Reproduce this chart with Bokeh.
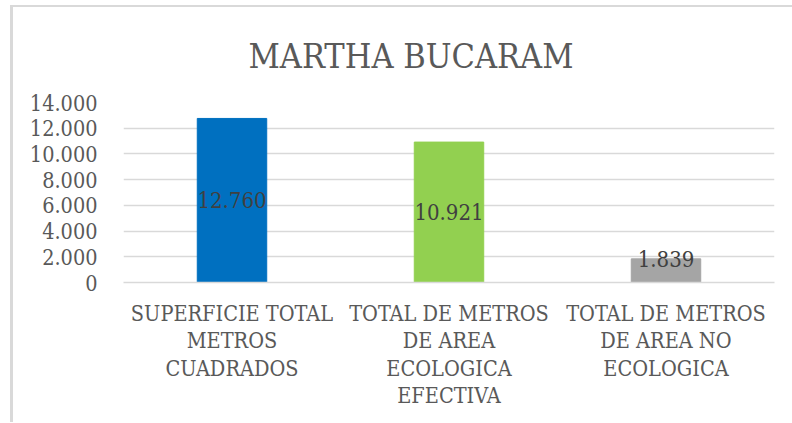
from bokeh.plotting import figure
from bokeh.models import ColumnDataSource, Title, CustomJSTickFormatter, FixedTicker
from bokeh.core.properties import value
from bokeh.embed import file_html
from bokeh.resources import INLINE

title = "MARTHA BUCARAM"
categories = [
    "SUPERFICIE TOTAL\nMETROS\nCUADRADOS",
    "TOTAL DE METROS\nDE AREA\nECOLOGICA\nEFECTIVA",
    "TOTAL DE METROS\nDE AREA NO\nECOLOGICA",
]
values = [12760, 10921, 1839]
value_labels = ["12.760", "10.921", "1.839"]
colors = ["#0070C0", "#92D050", "#A5A5A5"]
y_ticks = [0, 2000, 4000, 6000, 8000, 10000, 12000, 14000]

FONT = "DejaVu Serif Condensed"

label_y = [v / 2 if v / 2 > 1500 else v for v in values]
src = ColumnDataSource(dict(cat=categories, val=values, col=colors,
                            lab=value_labels, ly=label_y))

p = figure(x_range=categories, y_range=(0, 14000), width=782, height=417,
           output_backend="svg", toolbar_location=None,
           min_border_left=110, min_border_right=21,
           min_border_top=95, min_border_bottom=142)
p.title = None
p.styles = {"border-top": "2px solid #D9D9D9", "border-left": "3px solid #D9D9D9",
            "margin-left": "10px", "margin-top": "5px"}
p.outline_line_color = None
p.background_fill_color = "white"

p.vbar(x="cat", top="val", width=0.32, color="col", source=src)
p.text(x="cat", y="ly", text="lab", source=src, text_align="center",
       text_baseline="middle", text_font_size="22px", text_color="#404040",
       text_font=value(FONT))

p.xgrid.grid_line_color = None
p.ygrid.grid_line_color = "#D9D9D9"
p.ygrid.grid_line_width = 1.5
p.yaxis.ticker = FixedTicker(ticks=y_ticks)
p.yaxis.formatter = CustomJSTickFormatter(
    code='return tick.toFixed(0).replace(/\\B(?=(\\d{3})+(?!\\d))/g, ".");')
p.yaxis.axis_line_color = None
p.yaxis.major_tick_line_color = None
p.yaxis.minor_tick_line_color = None
p.yaxis.major_label_text_font = FONT
p.yaxis.major_label_text_font_size = "21.5px"
p.yaxis.major_label_text_color = "#595959"
p.yaxis.major_label_standoff = 20

p.xaxis.axis_line_color = "#D9D9D9"
p.xaxis.axis_line_width = 1.5
p.xaxis.major_tick_line_color = None
p.xaxis.major_label_text_font = FONT
p.xaxis.major_label_text_font_size = "21.5px"
p.xaxis.major_label_text_color = "#595959"
p.xaxis.major_label_standoff = 12
p.xaxis.major_label_text_line_height = 1.1

p.add_layout(Title(text=title, align="left", offset=125, standoff=53,
                   text_font=FONT, text_font_size="34px",
                   text_font_style="normal", text_color="#595959"), "above")

open("out.html", "w").write(file_html(p, INLINE))
